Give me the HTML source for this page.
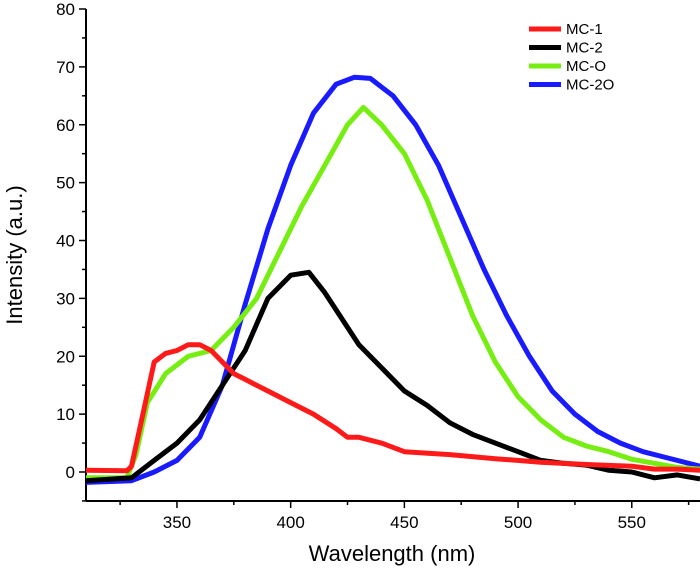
<!DOCTYPE html>
<html><head><meta charset="utf-8"><style>
body{margin:0;background:#fff}
svg{display:block;font-family:"Liberation Sans",Arial,sans-serif}
</style></head><body>
<svg id="chart" width="700" height="578" viewBox="0 0 700 578">
<g id="axes"></g><g id="series"></g><g id="legend"></g>
<text x="392" y="561" font-size="22" text-anchor="middle">Wavelength (nm)</text>
<text transform="translate(22,255) rotate(-90)" font-size="22" text-anchor="middle">Intensity (a.u.)</text>
</svg>
<script>
const seriesNames = ["MC-1","MC-2","MC-O","MC-2O"];
const seriesColors = ["#ff1a1a","#000000","#77ee11","#1a1aff"];
const mc1X = [310,328,330,335,340,345,350,355,360,365,370,375,380,390,400,410,420,425,430,440,450,470,490,510,530,550,560,570,580];
const mc1Y = [0.3,0.2,1,10,19,20.5,21,22,22,21,19,17,16,14,12,10,7.5,6,6,5,3.5,3,2.3,1.7,1.3,1,0.5,0.5,0.3];
const mc2X = [310,330,340,350,360,370,380,390,400,408,415,420,430,440,450,460,470,480,490,500,510,520,530,540,550,560,570,580];
const mc2Y = [-1.5,-1,2,5,9,15,21,30,34,34.5,31,28,22,18,14,11.5,8.5,6.5,5,3.5,2,1.5,1.2,0.3,0,-1,-0.5,-1.2];
const mcoX = [310,328,332,337,345,355,365,375,385,395,405,415,425,432,440,450,460,470,480,490,500,510,520,530,540,550,560,570,580];
const mcoY = [-1,-1,3,12,17,20,21,25,30,38,46,53,60,63,60,55,47,37,27,19,13,9,6,4.5,3.5,2.2,1.5,0.8,0.5];
const mc2oX = [310,330,340,350,360,370,380,390,400,410,420,428,435,445,455,465,475,485,495,505,515,525,535,545,555,565,580];
const mc2oY = [-1.8,-1.5,0,2,6,15,29,42,53,62,67,68.2,68,65,60,53,44,35,27,20,14,10,7,5,3.5,2.5,1];
const xTicks = [350,400,450,500,550];
const yTicks = [0,10,20,30,40,50,60,70,80];
const NS="http://www.w3.org/2000/svg";
const X0=86,X1=700,Y0=501,Y1=9;
const xMin=310,xMax=580;
const sx=v=>X0+(v-xMin)/(xMax-xMin)*(X1-X0);
const sy=v=>472+(v-0)*(9-472)/80;
function mk(tag,attrs,parent){const e=document.createElementNS(NS,tag);for(const k in attrs)e.setAttribute(k,attrs[k]);parent.appendChild(e);return e;}
const axes=document.getElementById('axes');
let l=mk('line',{x1:X0,y1:Y0,x2:X1,y2:Y0,stroke:'#000','stroke-width':2},axes);


l=mk('line',{x1:X0,y1:Y0,x2:X0,y2:Y1,stroke:'#000','stroke-width':2},axes);


for(let v=325;v<=575;v+=25){const major=xTicks.includes(v);mk('line',{x1:sx(v),y1:Y0,x2:sx(v),y2:Y0+(major?7:4),stroke:'#000','stroke-width':1.5},axes);}
xTicks.forEach(v=>{const t=mk('text',{x:sx(v),y:Y0+27,'font-size':17,'text-anchor':'middle'},axes);t.textContent=v;

});
for(let v=-5;v<=80;v+=5){const major=yTicks.includes(v);mk('line',{x1:X0,y1:sy(v),x2:X0-(major?7:4),y2:sy(v),stroke:'#000','stroke-width':1.5},axes);}
yTicks.forEach(v=>{const t=mk('text',{x:X0-11,y:sy(v)+6,'font-size':17,'text-anchor':'end'},axes);t.textContent=v;

});
const data=[[mc1X,mc1Y],[mc2X,mc2Y],[mcoX,mcoY],[mc2oX,mc2oY]];
const order=[3,2,1,0];
const sg=document.getElementById('series');
order.forEach(i=>{const [xs,ys]=data[i];const d=xs.map((x,j)=>(j?'L':'M')+sx(x).toFixed(1)+','+sy(ys[j]).toFixed(1)).join('');
const p=mk('path',{d:d,fill:'none',stroke:seriesColors[i],'stroke-width':5,'stroke-linejoin':'round'},sg);

});
const lg=document.getElementById('legend');
seriesNames.forEach((n,i)=>{const y=29+i*18.5;
const ln=mk('line',{x1:529,y1:y,x2:561,y2:y,stroke:seriesColors[i],'stroke-width':5},lg);


const t=mk('text',{x:566,y:y+5,'font-size':15},lg);t.textContent=n;

});
</script>
</body></html>
